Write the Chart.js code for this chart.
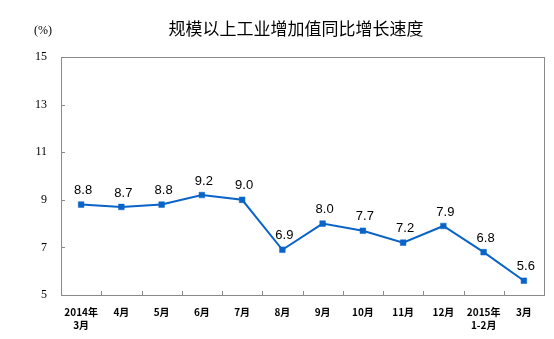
<!DOCTYPE html>
<html>
<head>
<meta charset="utf-8">
<script src="https://cdn.jsdelivr.net/npm/chart.js@4/dist/chart.umd.min.js"></script>
<style>
  html, body { margin: 0; padding: 0; background: #ffffff; }
  #wrap { width: 554px; height: 339px; }
</style>
</head>
<body>
<div id="wrap"><canvas id="c" width="554" height="339"></canvas></div>
<script>
// Monthly year-on-year growth of industrial value added (%)
const categories = [
  ['2014年', '3月'], '4月', '5月', '6月', '7月', '8月',
  '9月', '10月', '11月', '12月', ['2015年', '1-2月'], '3月'
];
const growth = [8.8, 8.7, 8.8, 9.2, 9.0, 6.9, 8.0, 7.7, 7.2, 7.9, 6.8, 5.6];
const yTicks = [5, 7, 9, 11, 13, 15];
const chartTitle = '规模以上工业增加值同比增长速度';
const unitLabel = '(%)';

const LINE_BLUE = '#0a64c8';
const FRAME_GRAY = '#8a8a8a';

// Frame, inward tick marks, title, unit and value labels
const decorations = {
  id: 'decorations',
  afterDatasetsDraw(chart) {
    const { ctx, chartArea: a, scales: { x, y } } = chart;
    ctx.save();
    ctx.strokeStyle = FRAME_GRAY;
    ctx.lineWidth = 1;
    ctx.strokeRect(Math.round(a.left) + 0.5, Math.round(a.top) + 0.5,
                   Math.round(a.right - a.left), Math.round(a.bottom - a.top));
    ctx.beginPath();
    yTicks.forEach(v => {
      const py = Math.round(y.getPixelForValue(v)) + 0.5;
      ctx.moveTo(a.left, py);
      ctx.lineTo(a.left + 4, py);
    });
    for (let i = 0; i < categories.length - 1; i++) {
      const px = Math.round((x.getPixelForTick(i) + x.getPixelForTick(i + 1)) / 2) + 0.5;
      ctx.moveTo(px, a.bottom);
      ctx.lineTo(px, a.bottom - 4);
    }
    ctx.stroke();

    // value labels above each point
    const meta = chart.getDatasetMeta(0);
    ctx.fillStyle = '#000000';
    ctx.font = '13px "Liberation Sans", Arial, sans-serif';
    ctx.textAlign = 'center';
    ctx.textBaseline = 'middle';
    meta.data.forEach((pt, i) => {
      ctx.fillText(growth[i].toFixed(1), pt.x + 2, pt.y - 14);
    });

    // title and unit
    ctx.font = '17px "Noto Sans CJK SC", sans-serif';
    ctx.fillText(chartTitle, 296, 29);
    ctx.font = '12px "Liberation Serif", "Times New Roman", serif';
    ctx.fillText(unitLabel, 43, 31);
    ctx.restore();
  }
};

new Chart(document.getElementById('c'), {
  type: 'line',
  data: {
    labels: categories,
    datasets: [{
      data: growth,
      borderColor: LINE_BLUE,
      backgroundColor: LINE_BLUE,
      borderWidth: 2,
      pointStyle: 'rect',
      pointRadius: 4,
      pointBorderWidth: 0.5,
      pointBackgroundColor: LINE_BLUE,
      pointBorderColor: LINE_BLUE,
      tension: 0,
      fill: false
    }]
  },
  options: {
    responsive: false,
    animation: false,
    devicePixelRatio: 1,
    layout: { padding: { left: 0, right: 10, top: 57, bottom: 0 } },
    plugins: {
      legend: { display: false },
      tooltip: { enabled: false },
      title: { display: false }
    },
    scales: {
      x: {
        type: 'category',
        offset: true,
        grid: { display: false, drawTicks: false },
        border: { display: false },
        ticks: {
          autoSkip: false,
          maxRotation: 0,
          minRotation: 0,
          padding: 11,
          color: '#000000',
          font: { family: '"Noto Sans CJK SC", sans-serif', size: 10, weight: 'bold', lineHeight: 1.3 }
        },
        afterFit(scale) { scale.height = 44; }
      },
      y: {
        min: 5,
        max: 15,
        afterBuildTicks(scale) { scale.ticks = yTicks.map(v => ({ value: v })); },
        grid: { display: false, drawTicks: false },
        border: { display: false },
        ticks: {
          padding: 14,
          color: '#000000',
          font: { family: '"Liberation Serif", "Times New Roman", serif', size: 12 }
        },
        afterFit(scale) { scale.width = 61; }
      }
    }
  },
  plugins: [decorations]
});
</script>
</body>
</html>
